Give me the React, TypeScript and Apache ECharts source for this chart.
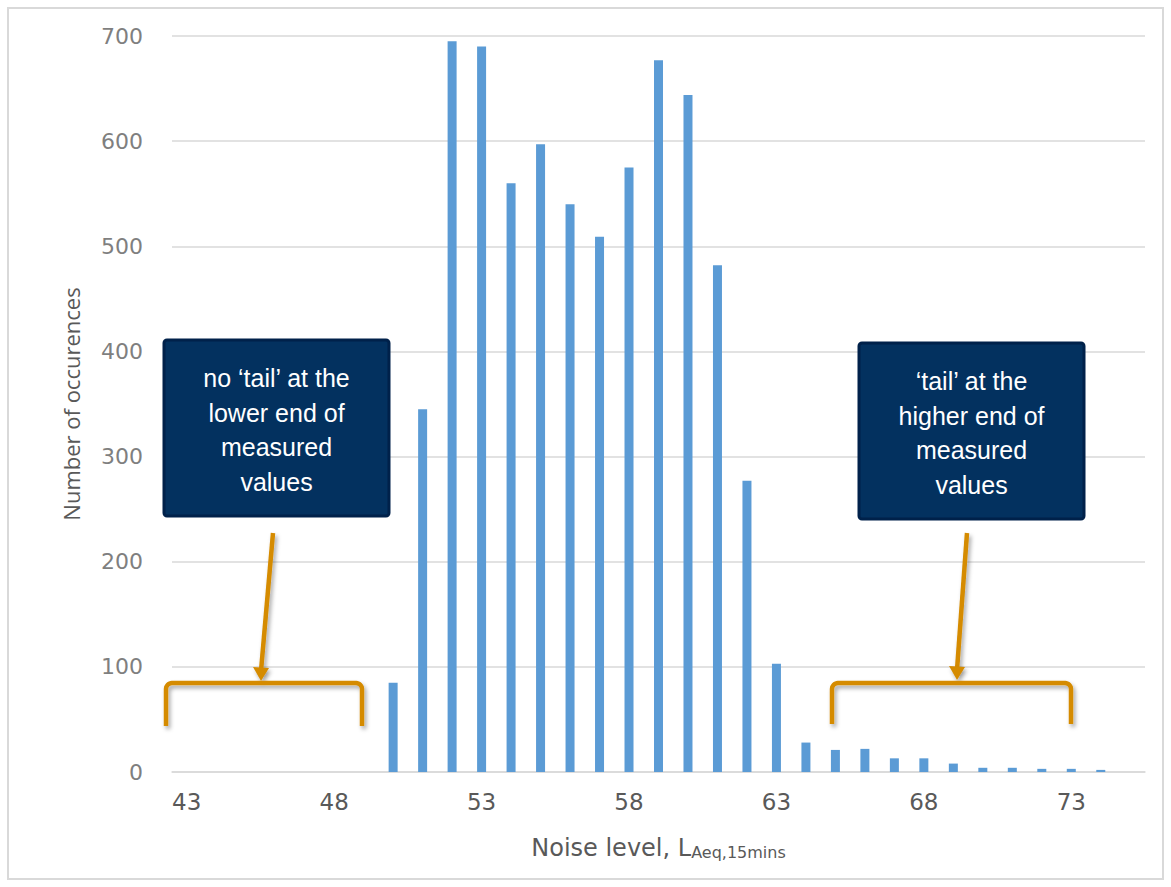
import React, { useEffect, useRef } from "react";
import * as echarts from "echarts";

const categories: string[] = [
  "43", "44", "45", "46", "47", "48", "49", "50", "51", "52", "53",
  "54", "55", "56", "57", "58", "59", "60", "61", "62", "63", "64",
  "65", "66", "67", "68", "69", "70", "71", "72", "73", "74", "75",
];

const occurrences: number[] = [
  0, 0, 0, 0, 0, 0, 0, 85, 345, 695, 690,
  560, 597, 540, 509, 575, 677, 644, 482, 277, 103, 28,
  21, 22, 13, 13, 8, 4, 4, 3, 3, 2,
];

const yTicks = { min: 0, max: 700, interval: 100 };

const leftNote = "no \u2018tail\u2019 at the\nlower end of\nmeasured\nvalues";
const rightNote = "\u2018tail\u2019 at the\nhigher end of\nmeasured\nvalues";

const ORANGE = "#D58B00";
const NAVY = "#03315F";
const NAVY_EDGE = "#00214A";

function bracket(x0: number, x1: number, yTop: number, yBot: number, r: number) {
  const pts: number[][] = [];
  pts.push([x0, yBot]);
  pts.push([x0, yTop + r]);
  for (let i = 1; i < 6; i++) {
    const a = Math.PI - (i / 6) * (Math.PI / 2);
    pts.push([x0 + r + r * Math.cos(a), yTop + r - r * Math.sin(a)]);
  }
  pts.push([x0 + r, yTop]);
  pts.push([x1 - r, yTop]);
  for (let i = 1; i < 6; i++) {
    const a = Math.PI / 2 - (i / 6) * (Math.PI / 2);
    pts.push([x1 - r + r * Math.cos(a), yTop + r - r * Math.sin(a)]);
  }
  pts.push([x1, yTop + r]);
  pts.push([x1, yBot]);
  return pts;
}

const shadow = {
  shadowBlur: 4,
  shadowColor: "rgba(0,0,0,0.35)",
  shadowOffsetX: 2,
  shadowOffsetY: 3,
};

function note(cx: number, top: number, text: string) {
  const w = 225;
  const h = 176;
  return [
    {
      type: "rect",
      shape: { x: cx - w / 2, y: top, width: w, height: h, r: 3 },
      style: { fill: NAVY, stroke: NAVY_EDGE, lineWidth: 3 },
      z: 10,
    },
    {
      type: "text",
      x: cx,
      y: top + h / 2 + 2,
      style: {
        text,
        fill: "#ffffff",
        font: "25px 'Liberation Sans', Arial, sans-serif",
        align: "center",
        verticalAlign: "middle",
        lineHeight: 34.5,
      },
      z: 11,
    },
  ];
}

function arrow(x0: number, y0: number, x1: number, y1: number) {
  return [
    {
      type: "line",
      shape: { x1: x0, y1: y0, x2: x1, y2: y1 - 10 },
      style: { stroke: ORANGE, lineWidth: 4.5, ...shadow },
      z: 10,
    },
    {
      type: "polygon",
      shape: { points: [[x1 - 8, y1 - 14], [x1 + 8, y1 - 13], [x1, y1]] },
      style: { fill: ORANGE, ...shadow },
      z: 10,
    },
  ];
}

export default function App() {
  const ref = useRef<HTMLDivElement>(null);

  useEffect(() => {
    if (!ref.current) return;
    const chart = echarts.init(ref.current, undefined, { renderer: "svg" });
    const option: any = {
      animation: false,
      backgroundColor: "#ffffff",
      grid: { left: 172, right: 26, top: 36, bottom: 115 },
      xAxis: {
        type: "category",
        data: categories,
        boundaryGap: true,
        axisLine: { show: true, lineStyle: { color: "#D9D9D9", width: 1.5 } },
        axisTick: { show: false },
        axisLabel: {
          interval: 4,
          margin: 18,
          color: "#595959",
          fontFamily: "DejaVu Sans",
          fontSize: 23,
        },
        name: "{a|Noise level, L}{b|Aeq,15mins}",
        nameLocation: "middle",
        nameGap: 60,
        nameTextStyle: {
          rich: {
            a: {
              fontFamily: "DejaVu Sans",
              fontSize: 24,
              color: "#595959",
              lineHeight: 28,
              verticalAlign: "bottom",
            },
            b: {
              fontFamily: "DejaVu Sans",
              fontSize: 16,
              color: "#595959",
              lineHeight: 20,
              verticalAlign: "bottom",
            },
          },
        },
      },
      yAxis: {
        type: "value",
        min: yTicks.min,
        max: yTicks.max,
        interval: yTicks.interval,
        axisLine: { show: false },
        axisTick: { show: false },
        splitLine: { lineStyle: { color: "#D9D9D9", width: 1.5 } },
        axisLabel: {
          margin: 29,
          color: "#7F7F7F",
          fontFamily: "DejaVu Sans",
          fontSize: 22,
        },
        name: "Number of occurences",
        nameLocation: "middle",
        nameGap: 90,
        nameTextStyle: {
          color: "#595959",
          fontFamily: "Open Sans",
          fontSize: 22,
        },
      },
      series: [
        {
          type: "bar",
          data: occurrences,
          barWidth: 9,
          itemStyle: { color: "#5B9BD5" },
        },
      ],
      graphic: [
        {
          type: "rect",
          shape: { x: 8, y: 8, width: 1155, height: 871 },
          style: { fill: "none", stroke: "#D9D9D9", lineWidth: 2 },
          silent: true,
        },
        ...note(276.5, 340, leftNote),
        ...note(971.5, 343, rightNote),
        ...arrow(273, 533, 261, 681),
        ...arrow(967, 533, 957, 680),
        {
          type: "polyline",
          shape: { points: bracket(166, 362, 683, 726, 6) },
          style: { stroke: ORANGE, lineWidth: 4.5, fill: "none", lineJoin: "round", ...shadow },
          z: 10,
        },
        {
          type: "polyline",
          shape: { points: bracket(832, 1071, 683, 724, 6) },
          style: { stroke: ORANGE, lineWidth: 4.5, fill: "none", lineJoin: "round", ...shadow },
          z: 10,
        },
      ],
    };
    chart.setOption(option);
    return () => chart.dispose();
  }, []);

  return (
    <div
      ref={ref}
      style={{ position: "fixed", left: 0, top: 0, width: 1171, height: 887, background: "#fff" }}
    />
  );
}
